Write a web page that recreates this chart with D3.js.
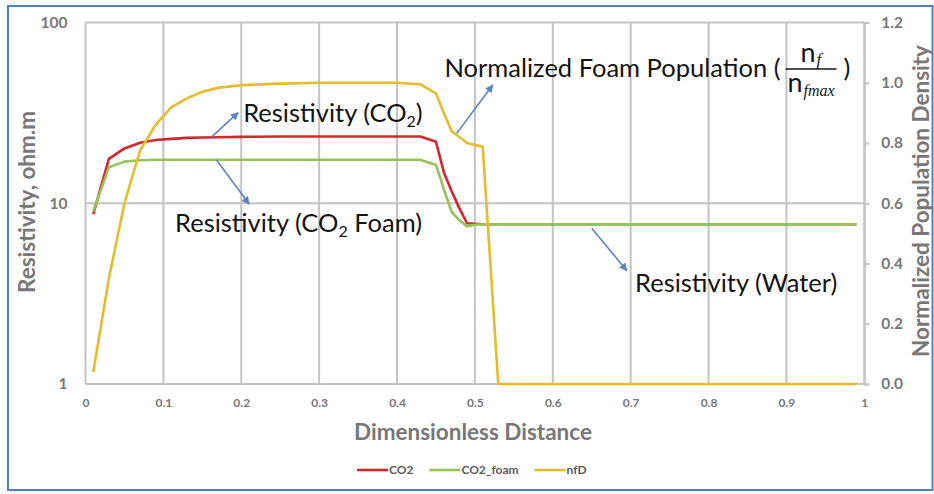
<!DOCTYPE html>
<html>
<head>
<meta charset="utf-8">
<script src="https://cdn.jsdelivr.net/npm/d3@7"></script>
<style>
  html, body { margin: 0; padding: 0; background: #fff; }
  svg { display: block; }
</style>
</head>
<body>
<svg id="chart" width="934" height="494"></svg>
<script>
// Dimensionless distance along the core (shared by all three series)
const distance = [0.01, 0.03, 0.05, 0.07, 0.09, 0.11, 0.13, 0.15, 0.17, 0.20,
                  0.25, 0.30, 0.35, 0.40, 0.43, 0.45, 0.46, 0.47, 0.48, 0.49,
                  0.50, 0.51, 0.53, 0.60, 0.70, 0.80, 0.90, 0.99];

// Resistivity with CO2 injection, ohm.m
const co2 = [8.7, 17.6, 20.1, 21.6, 22.4, 22.7, 23.0, 23.1, 23.2, 23.3,
             23.4, 23.4, 23.4, 23.4, 23.4, 21.9, 14.9, 11.7, 9.4, 7.75,
             7.7, 7.65, 7.65, 7.65, 7.65, 7.65, 7.65, 7.65];

// Resistivity with CO2 foam injection, ohm.m
const co2Foam = [9.0, 15.8, 17.0, 17.3, 17.4, 17.4, 17.4, 17.4, 17.4, 17.4,
                 17.4, 17.4, 17.4, 17.4, 17.4, 16.3, 12.0, 9.0, 8.05, 7.45,
                 7.6, 7.65, 7.65, 7.65, 7.65, 7.65, 7.65, 7.65];

// Normalized foam population density nf / nfmax
const nfD = [0.04, 0.35, 0.60, 0.775, 0.86, 0.918, 0.948, 0.97, 0.983, 0.992,
             0.997, 1.0, 1.0, 1.0, 0.995, 0.965, 0.90, 0.84, 0.82, 0.80,
             0.793, 0.788, 0, 0, 0, 0, 0, 0];

const xTicks = [0, 0.1, 0.2, 0.3, 0.4, 0.5, 0.6, 0.7, 0.8, 0.9, 1];
const leftTicks = [1, 10, 100];
const rightTicks = [0, 0.2, 0.4, 0.6, 0.8, 1.0, 1.2];

const seriesNames = ["CO2", "CO2_foam", "nfD"];
const seriesColors = ["#d0282c", "#96c25a", "#e6bb2c"];

const svg = d3.select("#chart");
const W = 934, H = 494;
const plot = { left: 85.5, right: 864.3, top: 22.5, bottom: 384 };

const x = d3.scaleLinear().domain([0, 1]).range([plot.left, plot.right]);
const yL = d3.scaleLog().domain([1, 100]).range([plot.bottom, plot.top]);
const yR = d3.scaleLinear().domain([0, 1.2]).range([plot.bottom, plot.top]);

const gridColor = "#c3c3c3";
const axisText = "#777777";
const FONT = "Lato, 'Open Sans', sans-serif";

// outer frame
svg.append("rect")
  .attr("x", 8).attr("y", 6).attr("width", W - 8 - 1.5).attr("height", 484)
  .attr("fill", "#fff").attr("stroke", "#4f81bd").attr("stroke-width", 2);

// gridlines
const grid = svg.append("g").attr("stroke", gridColor).attr("stroke-width", 2);
grid.selectAll("line.v").data(xTicks).join("line")
  .attr("class", "v")
  .attr("x1", d => x(d)).attr("x2", d => x(d))
  .attr("y1", plot.top).attr("y2", plot.bottom);
grid.selectAll("line.h").data(leftTicks).join("line")
  .attr("class", "h")
  .attr("x1", plot.left).attr("x2", plot.right)
  .attr("y1", d => yL(d)).attr("y2", d => yL(d));

// axes
const fmtX = d => (d === 0 || d === 1) ? String(d) : d.toFixed(1);
const gx = svg.append("g").attr("transform", `translate(0,${plot.bottom})`)
  .call(d3.axisBottom(x).tickValues(xTicks).tickSize(0).tickPadding(14).tickFormat(fmtX));
const gl = svg.append("g").attr("transform", `translate(${plot.left},0)`)
  .call(d3.axisLeft(yL).tickValues(leftTicks).tickSize(0).tickPadding(18).tickFormat(d3.format("d")));
const gr = svg.append("g").attr("transform", `translate(${plot.right},0)`)
  .call(d3.axisRight(yR).tickValues(rightTicks).tickSize(5).tickPadding(12).tickFormat(d3.format(".1f")));

[gx, gl].forEach(g => g.select(".domain").remove());
gr.select(".domain").attr("stroke", gridColor).attr("stroke-width", 2);
gr.selectAll(".tick line").attr("stroke", gridColor).attr("stroke-width", 2);
gx.selectAll("text").attr("font-size", 12);
gl.selectAll("text").attr("font-size", 15.5);
gr.selectAll("text").attr("font-size", 15.5);
[gx, gl, gr].forEach(g => g.selectAll("text")
  .attr("font-family", FONT).attr("font-weight", 700).attr("fill", axisText));

// series
const rows = distance.map((d, i) => ({ d, co2: co2[i], foam: co2Foam[i], nf: nfD[i] }));
const lineL = key => d3.line().x(r => x(r.d)).y(r => yL(r[key]));
const lineR = key => d3.line().x(r => x(r.d)).y(r => yR(r[key]));

const series = svg.append("g").attr("fill", "none").attr("stroke-width", 2.6)
  .attr("stroke-linejoin", "round");
series.append("path").datum(rows.filter(r => r.co2 != null))
  .attr("stroke", seriesColors[0]).attr("d", lineL("co2"));
series.append("path").datum(rows.filter(r => r.foam != null))
  .attr("stroke", seriesColors[1]).attr("d", lineL("foam"));
series.append("path").datum(rows.filter(r => r.nf != null))
  .attr("stroke", seriesColors[2]).attr("d", lineR("nf"));

// axis titles
svg.append("text")
  .attr("x", 473).attr("y", 440).attr("text-anchor", "middle")
  .attr("font-family", FONT).attr("font-weight", 700).attr("font-size", 22.5)
  .attr("fill", axisText).text("Dimensionless Distance");
svg.append("text")
  .attr("transform", "translate(35,202) rotate(-90)").attr("text-anchor", "middle")
  .attr("font-family", FONT).attr("font-weight", 700).attr("font-size", 22.5)
  .attr("fill", axisText).text("Resistivity, ohm.m");
svg.append("text")
  .attr("transform", "translate(929,201) rotate(-90)").attr("text-anchor", "middle")
  .attr("font-family", FONT).attr("font-weight", 700).attr("font-size", 22.5)
  .attr("fill", axisText).text("Normalized Population Density");

// legend
const legend = svg.append("g").attr("transform", "translate(357,470)");
let lx = 0;
seriesNames.forEach((name, i) => {
  const g = legend.append("g").attr("transform", `translate(${lx},0)`);
  g.append("line").attr("x1", 0).attr("x2", 31).attr("y1", 0).attr("y2", 0)
    .attr("stroke", seriesColors[i]).attr("stroke-width", 2.6);
  const t = g.append("text").attr("x", 32).attr("y", 4)
    .attr("font-family", FONT).attr("font-weight", 700).attr("font-size", 12)
    .attr("fill", "#595959").text(name);
  lx += 32 + t.node().getComputedTextLength() + 16;
});

// annotation arrows (data coordinates)
const arrowColor = "#5b86bd";
const defs = svg.append("defs");
defs.append("marker").attr("id", "head")
  .attr("viewBox", "0 0 10 10").attr("refX", 9).attr("refY", 5)
  .attr("markerWidth", 10).attr("markerHeight", 8)
  .attr("markerUnits", "userSpaceOnUse").attr("orient", "auto")
  .append("path").attr("d", "M0,0 L10,5 L0,10 Z").attr("fill", arrowColor);

const arrows = [
  { from: [0.162, 23.3, "L"], to: [0.196, 31.7, "L"] },
  { from: [0.168, 17.4, "L"], to: [0.210, 9.9, "L"] },
  { from: [0.4766, 0.832, "R"], to: [0.5229, 0.9925, "R"] },
  { from: [0.650, 7.27, "L"], to: [0.695, 4.24, "L"] }
];
const py = (v, axis) => axis === "L" ? yL(v) : yR(v);
svg.append("g").selectAll("line").data(arrows).join("line")
  .attr("x1", a => x(a.from[0])).attr("y1", a => py(a.from[1], a.from[2]))
  .attr("x2", a => x(a.to[0])).attr("y2", a => py(a.to[1], a.to[2]))
  .attr("stroke", arrowColor).attr("stroke-width", 1.6)
  .attr("marker-end", "url(#head)");

// annotation labels
const annoSize = 25.5;
function label(px, pyv, parts) {
  const t = svg.append("text").attr("x", px).attr("y", pyv)
    .attr("font-family", FONT).attr("font-size", annoSize).attr("fill", "#141414");
  parts.forEach(p => {
    const s = t.append("tspan").text(p.text);
    if (p.sub) s.attr("font-size", 16).attr("dy", 5);
    if (p.back) s.attr("dy", -5);
  });
  return t;
}
label(x(0.2025), yL(28.3), [{ text: "Resistivity (CO" }, { text: "2", sub: true }, { text: ")", back: true }]);
label(x(0.115), yL(6.96), [{ text: "Resistivity (CO" }, { text: "2", sub: true }, { text: " Foam)", back: true }]);
label(x(0.7056), yL(3.24), [{ text: "Resistivity (Water)" }]);

// foam population label with the nf / nfmax fraction
const fx = x(0.461), fb = yR(1.019);
const ft = label(fx, fb, [{ text: "Normalized Foam Population (" }]);
const xe = fx + ft.node().getComputedTextLength();
const frac = svg.append("g").attr("fill", "#141414");
frac.append("line").attr("x1", xe + 5).attr("x2", xe + 56)
  .attr("y1", fb - 8).attr("y2", fb - 8).attr("stroke", "#141414").attr("stroke-width", 1.4);
frac.append("text").attr("x", xe + 20).attr("y", fb - 15)
  .attr("font-family", FONT).attr("font-size", 27).text("n");
frac.append("text").attr("x", xe + 36).attr("y", fb - 12)
  .attr("font-family", "'Liberation Serif', serif").attr("font-style", "italic")
  .attr("font-size", 17).text("f");
frac.append("text").attr("x", xe + 7).attr("y", fb + 15)
  .attr("font-family", FONT).attr("font-size", 27).text("n");
frac.append("text").attr("x", xe + 23).attr("y", fb + 19)
  .attr("font-family", "'Liberation Serif', serif").attr("font-style", "italic")
  .attr("font-size", 16).text("fmax");
frac.append("text").attr("x", xe + 63).attr("y", fb)
  .attr("font-family", FONT).attr("font-size", annoSize).text(")");
</script>
</body>
</html>
